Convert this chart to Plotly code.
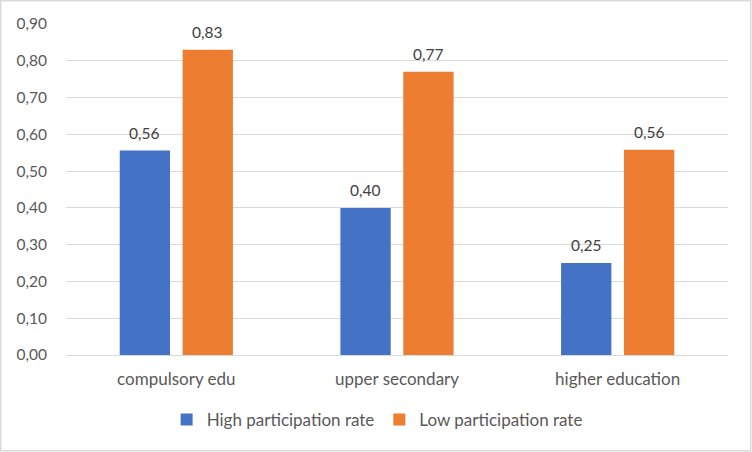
import plotly.graph_objects as go

categories = ["compulsory edu", "upper secondary", "higher education"]
high_rate = [0.556, 0.40, 0.25]
low_rate = [0.83, 0.77, 0.558]
series_names = ["High participation rate", "Low participation rate"]
y_ticks = [0.0, 0.1, 0.2, 0.3, 0.4, 0.5, 0.6, 0.7, 0.8, 0.9]

W, H = 752, 452
ml, mr, mt, mb = 66, 24, 24, 97
pw, ph = W - ml - mr, H - mt - mb

fam = "Lato, Open Sans, sans-serif"
font = dict(family=fam, size=15.5, color="#595959")
catfont = dict(family=fam, size=17, color="#595959")

BAR_SHIFT = 31.5  # half spacing between bar centres in a group (style)

fig = go.Figure()
series = [(series_names[0], high_rate, "#4472C4", -BAR_SHIFT),
          (series_names[1], low_rate, "#ED7D31", BAR_SHIFT)]
for name, vals, col, shift in series:
    fig.add_trace(go.Bar(
        x=categories, y=vals, name=name, marker=dict(color=col, line_width=0),
    ))
    for c, v in zip(categories, vals):
        fig.add_annotation(x=c, y=v, text=f"{v:.2f}".replace(".", ","),
                           showarrow=False, xshift=shift, yshift=18,
                           yanchor="middle",
                           font=dict(family=fam, size=15.5, color="#404040"))

fig.update_layout(
    width=W, height=H,
    margin=dict(l=ml, r=mr, t=mt, b=mb),
    paper_bgcolor="white", plot_bgcolor="white",
    separators=", ",
    barmode="group", bargap=0.43, bargroupgap=0.2,
    font=font,
    showlegend=True,
    legend=dict(orientation="h", x=0.47, xanchor="center", y=-0.196, yanchor="middle",
                font=catfont, traceorder="normal"),
    xaxis=dict(showgrid=False, showline=False, ticks="", tickfont=catfont,
               ticklabelstandoff=12),
    yaxis=dict(range=[0, 0.9], tickvals=y_ticks, tickformat=".2f",
               showgrid=True, gridcolor="#d9d9d9", gridwidth=1,
               zeroline=True, zerolinecolor="#d9d9d9", zerolinewidth=1,
               showline=False, ticks="", tickfont=font, ticklabelstandoff=18),
    shapes=[dict(type="rect", xref="paper", yref="paper",
                 x0=-(ml - 0.75) / pw, x1=1 + (mr - 1.25) / pw,
                 y0=-(mb - 1.25) / ph, y1=1 + (mt - 0.75) / ph,
                 line=dict(color="#d9d9d9", width=1.5), fillcolor="rgba(0,0,0,0)",
                 layer="below")],
)

fig.write_html("out.html", config={"displayModeBar": False},
               post_script="document.body.style.margin='0';document.body.style.padding='0';")
